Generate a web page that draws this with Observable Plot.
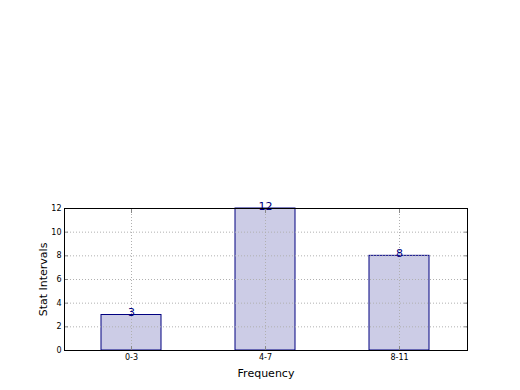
<!DOCTYPE html>
<html>
<head>
<meta charset="utf-8">
<script src="https://cdn.jsdelivr.net/npm/d3@7"></script>
<script src="https://cdn.jsdelivr.net/npm/@observablehq/plot@0.6"></script>
<style>
  html, body { margin: 0; padding: 0; background: #fff; }
  #chart svg { display: block; }
</style>
</head>
<body>
<div id="chart"></div>
<script>
const categories = ["0-3", "4-7", "8-11"];
const counts = [3, 12, 8];
const yTicks = [0, 2, 4, 6, 8, 10, 12];

const data = categories.map((c, i) => ({category: c, count: counts[i]}));
const font = "DejaVu Sans, sans-serif";

const chart = Plot.plot({
  width: 520,
  height: 390,
  marginLeft: 64,
  marginRight: 53,
  marginTop: 208,
  marginBottom: 40,
  style: {fontFamily: font, fontSize: "8px", color: "#000", background: "#fff"},
  x: {domain: categories, paddingInner: 0.55, paddingOuter: 0.275, label: null},
  y: {domain: [0, 12], label: null},
  marks: [
    Plot.rectY(data, {x: "category", y: "count", fill: "navy", fillOpacity: 0.2, stroke: "navy", strokeWidth: 1}),
    Plot.gridX({stroke: "#b0b0b0", strokeOpacity: 1, strokeDasharray: "1,2", strokeWidth: 1}),
    Plot.gridY(yTicks, {stroke: "#b0b0b0", strokeOpacity: 1, strokeDasharray: "1,2", strokeWidth: 1}),
    Plot.text(data, {x: "category", y: "count", text: d => String(d.count), fill: "navy", fontSize: 11, lineAnchor: "bottom", dy: 1}),
    Plot.axisY(yTicks, {anchor: "left", tickSize: -4, tickPadding: 7, stroke: "#888", label: null, fontSize: 8}),
    Plot.axisY(yTicks, {anchor: "right", tickSize: -4, tickFormat: () => "", stroke: "#888", label: null}),
    Plot.axisX({anchor: "bottom", tickSize: -4, tickPadding: 8, stroke: "#888", label: null, fontSize: 8}),
    Plot.axisX({anchor: "top", tickSize: -4, tickFormat: () => "", stroke: "#888", label: null}),
    Plot.frame({stroke: "#000", strokeWidth: 1}),
    Plot.text(["Frequency"], {frameAnchor: "bottom", dy: 26, fontSize: 11, fill: "#000"}),
    Plot.text(["Stat Intervals"], {frameAnchor: "left", dx: -21, rotate: -90, textAnchor: "middle", fontSize: 11, fill: "#000"})
  ]
});
document.getElementById("chart").appendChild(chart);
</script>
</body>
</html>
